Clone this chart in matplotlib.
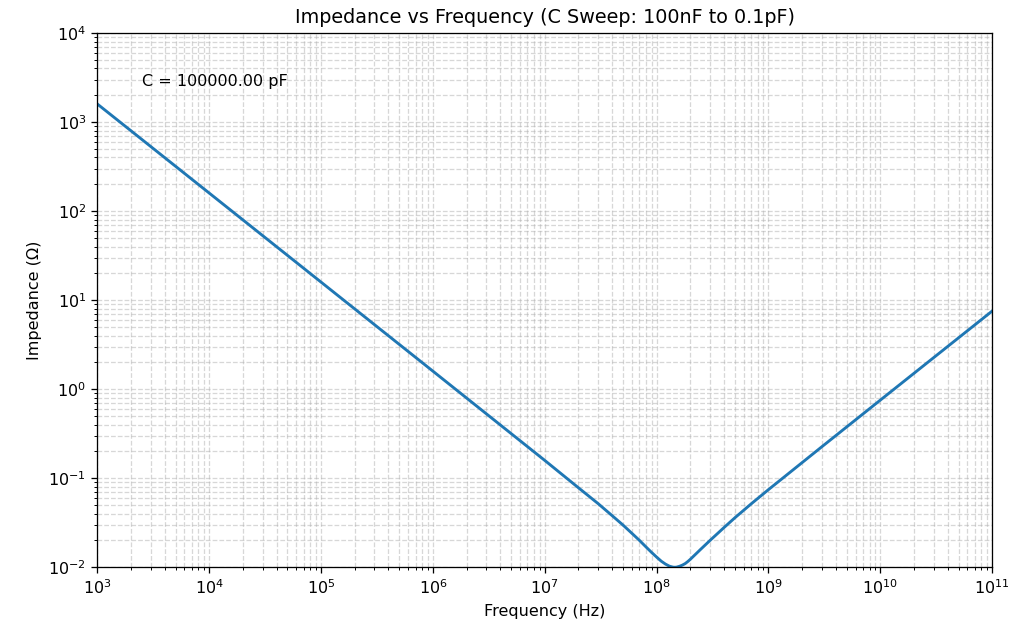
import matplotlib
matplotlib.use("Agg")
import matplotlib.pyplot as plt

# values
freq = [1e3, 1e4, 1e5, 1e6, 1e7, 2e7, 3e7, 4e7, 5e7, 6e7, 7e7, 8e7, 9e7, 1e8,
        1.1e8, 1.2e8, 1.3e8, 1.4e8, 1.45e8, 1.5e8, 1.6e8, 1.7e8, 1.8e8, 1.9e8,
        2e8, 2.5e8, 3e8, 4e8, 5e8, 7e8, 1e9, 3e9, 1e10, 3e10, 1e11]
imped = [1591.5, 159.2, 15.92, 1.592, 0.1584, 0.0781, 0.0518, 0.0380, 0.0298,
         0.0241, 0.0201, 0.0170, 0.0147, 0.0130, 0.0117, 0.01085, 0.01029,
         0.01003, 0.0100, 0.01002, 0.01025, 0.01058, 0.0110, 0.01160,
         0.01228, 0.0161, 0.0200, 0.0279, 0.0359, 0.0515, 0.0745, 0.2257,
         0.754, 2.262, 7.54]

cap_label = "C = 100000.00 pF"

dpi = 115
fig, ax = plt.subplots(figsize=(1025 / dpi, 622 / dpi), dpi=dpi)
ax.loglog(freq, imped, color="#1f77b4", linewidth=1.8)
ax.set_xlim(1e3, 1e11)
ax.set_ylim(1e-2, 1e4)
ax.grid(True, which="both", linestyle="--", alpha=0.5)
ax.set_title("Impedance vs Frequency (C Sweep: 100nF to 0.1pF)")
ax.set_xlabel("Frequency (Hz)")
ax.set_ylabel("Impedance (Ω)")
ax.text(0.05, 0.9, cap_label, transform=ax.transAxes)
fig.subplots_adjust(left=0.095, right=0.968, top=0.947, bottom=0.088)
fig.savefig("out.png")
